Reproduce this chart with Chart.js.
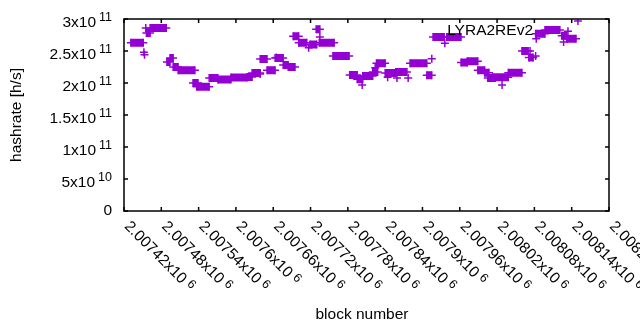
<!DOCTYPE html>
<html>
<head>
<meta charset="utf-8">
<script src="https://cdn.jsdelivr.net/npm/chart.js@4.4.0/dist/chart.umd.min.js"></script>
<style>
  body { margin: 0; background: #fff; }
  #wrap { width: 640px; height: 330px; }
</style>
</head>
<body>
<div id="wrap"><canvas id="hashChart" width="640" height="330"></canvas></div>
<script>
// runs of blocks with the same hashrate (GH/s)
const runStart = [2007431, 2007456, 2007462, 2007489, 2007494, 2007499, 2007507, 2007531, 2007537, 2007557,
  2007571, 2007592, 2007618, 2007626, 2007639, 2007650, 2007663, 2007676, 2007684, 2007692,
  2007701, 2007719, 2007729, 2007734, 2007756, 2007783, 2007795, 2007804, 2007820, 2007826,
  2007840, 2007857, 2007880, 2007907, 2007917, 2007939, 2007962, 2007972, 2007989, 2008000,
  2008005, 2008013, 2008038, 2008060, 2008071, 2008082, 2008097, 2008124, 2008132];
const runEnd = [2007451, 2007462, 2007488, 2007494, 2007499, 2007507, 2007534, 2007539, 2007557, 2007571,
  2007592, 2007618, 2007626, 2007639, 2007650, 2007663, 2007676, 2007684, 2007695, 2007701,
  2007714, 2007730, 2007735, 2007758, 2007782, 2007795, 2007804, 2007820, 2007828, 2007840,
  2007857, 2007875, 2007907, 2007915, 2007935, 2007962, 2007972, 2007989, 2008000, 2008007,
  2008017, 2008038, 2008060, 2008070, 2008078, 2008097, 2008121, 2008132, 2008147];
const runRate = [263, 278, 286, 233, 239, 225, 220, 200, 194, 208,
  205.5, 208.6, 209.5, 215.6, 237.5, 220, 239, 228, 225, 273,
  263, 260, 284, 263, 242, 212.5, 206, 211, 217, 231,
  215.6, 217, 231, 212, 272, 272, 232, 234, 220, 216,
  208, 209, 216, 250, 240, 277, 283, 274, 269];

// single blocks
const dotBlock = [2007452, 2007453, 2007455, 2007639, 2007665, 2007717, 2007735, 2007803, 2007824, 2007844,
  2007859, 2007877, 2007915, 2007936, 2008028, 2008073, 2008082, 2008083, 2008127, 2008134, 2008150];
const dotRate = [248, 244, 286, 214, 240, 255, 272, 197, 224, 209,
  208, 208, 238, 262, 197, 250, 242, 269, 264, 281, 297];

const xTicks = [2007420, 2007480, 2007540, 2007600, 2007660, 2007720, 2007780, 2007840,
  2007900, 2007960, 2008020, 2008080, 2008140, 2008200];
const xTickText = ["2.00742x10", "2.00748x10", "2.00754x10", "2.0076x10", "2.00766x10", "2.00772x10",
  "2.00778x10", "2.00784x10", "2.0079x10", "2.00796x10", "2.00802x10", "2.00808x10", "2.00814x10", "2.0082x10"];
const yTicks = [0, 5e10, 1e11, 1.5e11, 2e11, 2.5e11, 3e11];
const yTickText = ["0", "5x10", "1x10", "1.5x10", "2x10", "2.5x10", "3x10"];
const yTickExp = ["", "10", "11", "11", "11", "11", "11"];

const purple = "#9400d3";
const font = "Liberation Sans, Arial, sans-serif";

const runData = [];
runStart.forEach((s, i) => {
  runData.push({ x: s, y: runRate[i] * 1e9 });
  runData.push({ x: runEnd[i], y: runRate[i] * 1e9 });
  runData.push({ x: runEnd[i], y: null });
});
const dotData = dotBlock.map((b, i) => ({ x: b, y: dotRate[i] * 1e9 }));

const frame = {
  id: "frame",
  afterDraw(chart) {
    const ctx = chart.ctx;
    const a = chart.chartArea;
    const xs = chart.scales.x, ys = chart.scales.y;
    ctx.save();
    ctx.strokeStyle = "#000";
    ctx.lineWidth = 1.5;
    ctx.strokeRect(a.left, a.top, a.right - a.left, a.bottom - a.top);
    ctx.beginPath();
    xTicks.forEach(v => {
      const px = xs.getPixelForValue(v);
      ctx.moveTo(px, a.bottom); ctx.lineTo(px, a.bottom - 4);
      ctx.moveTo(px, a.top); ctx.lineTo(px, a.top + 4);
    });
    yTicks.forEach(v => {
      const py = ys.getPixelForValue(v);
      ctx.moveTo(a.left, py); ctx.lineTo(a.left + 4, py);
      ctx.moveTo(a.right, py); ctx.lineTo(a.right - 4, py);
    });
    ctx.stroke();

    ctx.fillStyle = "#000";
    // y tick labels
    yTicks.forEach((v, i) => {
      const py = ys.getPixelForValue(v);
      ctx.font = "12.5px " + font;
      const ew = yTickExp[i] ? ctx.measureText(yTickExp[i]).width + 3 : 0;
      ctx.textAlign = "left";
      ctx.textBaseline = "middle";
      if (yTickExp[i]) ctx.fillText(yTickExp[i], 112 - ew + 3, py - 1);
      ctx.font = "15.5px " + font;
      ctx.textAlign = "right";
      ctx.fillText(yTickText[i], 112 - ew, py + (yTickExp[i] ? 3.5 : 0));
    });
    // x tick labels, rotated
    xTicks.forEach((v, i) => {
      const px = xs.getPixelForValue(v);
      ctx.save();
      ctx.translate(px + 2.7, a.bottom + 13);
      ctx.rotate(Math.PI / 4);
      ctx.textAlign = "left";
      ctx.textBaseline = "middle";
      ctx.font = "15.5px " + font;
      ctx.fillText(xTickText[i], 0, 0);
      const w = ctx.measureText(xTickText[i]).width;
      ctx.font = "12.5px " + font;
      ctx.fillText("6", w + 4, -3);
      ctx.restore();
    });
    // axis titles
    ctx.font = "15.5px " + font;
    ctx.textAlign = "center";
    ctx.textBaseline = "middle";
    ctx.fillText("block number", 362, 315);
    ctx.save();
    ctx.translate(17, 115);
    ctx.rotate(-Math.PI / 2);
    ctx.fillText("hashrate [h/s]", 0, 0);
    ctx.restore();
    // key
    ctx.textAlign = "right";
    ctx.fillText("LYRA2REv2", 533, 31);
    ctx.restore();
  }
};

new Chart(document.getElementById("hashChart"), {
  type: "scatter",
  data: {
    datasets: [
      {
        label: "LYRA2REv2",
        data: runData,
        showLine: true,
        spanGaps: false,
        borderColor: purple,
        backgroundColor: purple,
        borderWidth: 8,
        borderCapStyle: "butt",
        pointStyle: "cross",
        pointRadius: 4,
        pointBorderWidth: 1.5,
        pointBorderColor: purple
      },
      {
        label: "single",
        data: dotData,
        pointStyle: "cross",
        pointRadius: 4,
        pointBorderWidth: 1.5,
        borderColor: purple,
        backgroundColor: purple
      }
    ]
  },
  options: {
    responsive: false,
    animation: false,
    layout: { padding: { left: 124, right: 31, top: 19, bottom: 119 } },
    plugins: { legend: { display: false }, tooltip: { enabled: false } },
    scales: {
      x: { type: "linear", min: 2007420, max: 2008200, display: false },
      y: { min: 0, max: 3e11, display: false }
    }
  },
  plugins: [frame]
});
</script>
</body>
</html>
